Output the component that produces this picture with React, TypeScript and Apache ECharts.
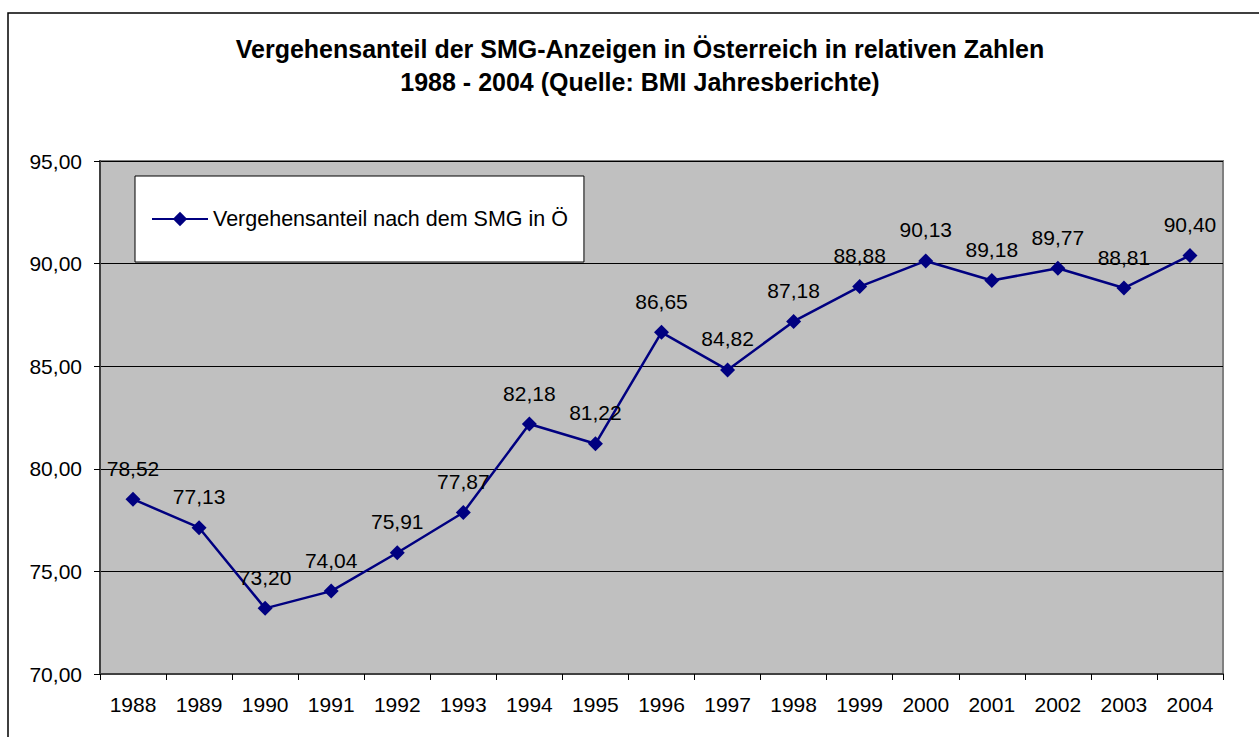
import React, { useEffect, useRef } from "react";
import * as echarts from "echarts";

const years = ["1988","1989","1990","1991","1992","1993","1994","1995","1996","1997","1998","1999","2000","2001","2002","2003","2004"];
const shares = [78.52, 77.13, 73.2, 74.04, 75.91, 77.87, 82.18, 81.22, 86.65, 84.82, 87.18, 88.88, 90.13, 89.18, 89.77, 88.81, 90.4];
const seriesName = "Vergehensanteil nach dem SMG in Ö";
const titleLines = [
  "Vergehensanteil der SMG-Anzeigen in Österreich in relativen Zahlen",
  "1988 - 2004 (Quelle: BMI Jahresberichte)",
];

const fmt = (v: number) => v.toFixed(2).replace(".", ",");

export default function App() {
  const ref = useRef<HTMLDivElement>(null);
  useEffect(() => {
    if (!ref.current) return;
    const chart = echarts.init(ref.current, undefined, { renderer: "svg" });
    const font = "Arial, 'Liberation Sans', sans-serif";
    chart.setOption({
      animation: false,
      backgroundColor: "#ffffff",
      textStyle: { fontFamily: font },
      title: {
        text: titleLines.join("\n"),
        left: 635,
        top: 27,
        textAlign: "center",
        textStyle: { fontFamily: font, fontSize: 25, fontWeight: "bold", color: "#000", lineHeight: 33 },
      },
      graphic: [
        {
          type: "rect",
          shape: { x: 8, y: 13, width: 1400, height: 900 },
          style: { fill: "none", stroke: "#000", lineWidth: 1.5 },
          silent: true,
          z: 100,
        },
      ],
      legend: {
        left: 135,
        top: 176,
        orient: "vertical",
        backgroundColor: "#ffffff",
        borderColor: "#000",
        borderWidth: 1,
        padding: [32, 16, 32, 16],
        itemWidth: 56,
        itemHeight: 18,
        itemGap: 0,
        textStyle: { fontFamily: font, fontSize: 21.5, color: "#000" },
        data: [seriesName],
      },
      grid: {
        left: 100,
        top: 161,
        width: 1123,
        height: 513,
        show: true,
        backgroundColor: "#C0C0C0",
        borderColor: "#808080",
        borderWidth: 2,
      },
      xAxis: {
        type: "category",
        data: years,
        boundaryGap: true,
        axisLine: { show: true, lineStyle: { color: "#404040", width: 2 } },
        axisTick: { show: true, length: 6, alignWithLabel: false, lineStyle: { color: "#000", width: 1 } },
        axisLabel: { fontSize: 21, color: "#000", margin: 20, fontFamily: font },
        splitLine: { show: false },
      },
      yAxis: {
        type: "value",
        min: 70,
        max: 95,
        interval: 5,
        axisLine: { show: true, lineStyle: { color: "#404040", width: 2 } },
        axisTick: { show: true, length: 6, lineStyle: { color: "#000", width: 1 } },
        axisLabel: { fontSize: 21, color: "#000", margin: 18, formatter: (v: number) => fmt(v), fontFamily: font },
        splitLine: { show: true, lineStyle: { color: "#000", width: 1 } },
      },
      series: [
        {
          name: seriesName,
          type: "line",
          data: shares,
          symbol: "diamond",
          symbolSize: 15,
          lineStyle: { color: "#000080", width: 2.5 },
          itemStyle: { color: "#000080" },
          label: {
            show: true,
            position: "top",
            distance: 13,
            fontSize: 21,
            color: "#000",
            fontFamily: font,
            formatter: (p: any) => fmt(p.value),
          },
        },
      ],
    });
    return () => chart.dispose();
  }, []);
  return <div ref={ref} style={{ position: "fixed", left: 0, top: 0, width: 1259, height: 737 }} />;
}
